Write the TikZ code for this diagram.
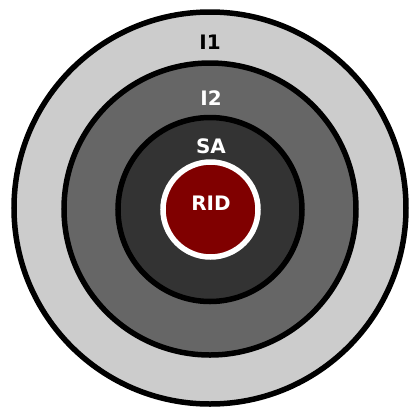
\documentclass[tikz,border=0pt]{standalone}
\usepackage{fontspec}
\setmainfont{DejaVu Sans}
\begin{document}
\begin{tikzpicture}[x=1bp,y=-1bp,
  ring/.style={draw=black, line width=5.5bp, circle, inner sep=0pt, minimum size=#1},
  lbl/.style={font=\fontsize{20}{20}\selectfont\bfseries, inner sep=0pt, anchor=base}]
\useasboundingbox (0,0) rectangle (410,409);
% nested zones, outermost first
\node[ring=392bp, fill={rgb,255:red,204;green,204;blue,204}] (i1) at (210,208) {};
\node[ring=292bp, fill={rgb,255:red,102;green,102;blue,102}] (i2) at (210,209) {};
\node[ring=184bp, fill={rgb,255:red,51;green,51;blue,51}] (sa) at (210,209.5) {};
\node[ring=95bp, draw=white, fill={rgb,255:red,128;green,0;blue,0}] (rid) at (210.5,209.5) {};
% zone labels
\node[lbl, text=black] (t1) at (210,49) {I1};
\node[lbl, text=white] (t2) at (211,105.5) {I2};
\node[lbl, text=white] (t3) at (211,153.5) {SA};
\node[lbl, text=white] (t4) at (211,210.5) {RID};
\end{tikzpicture}
\end{document}
